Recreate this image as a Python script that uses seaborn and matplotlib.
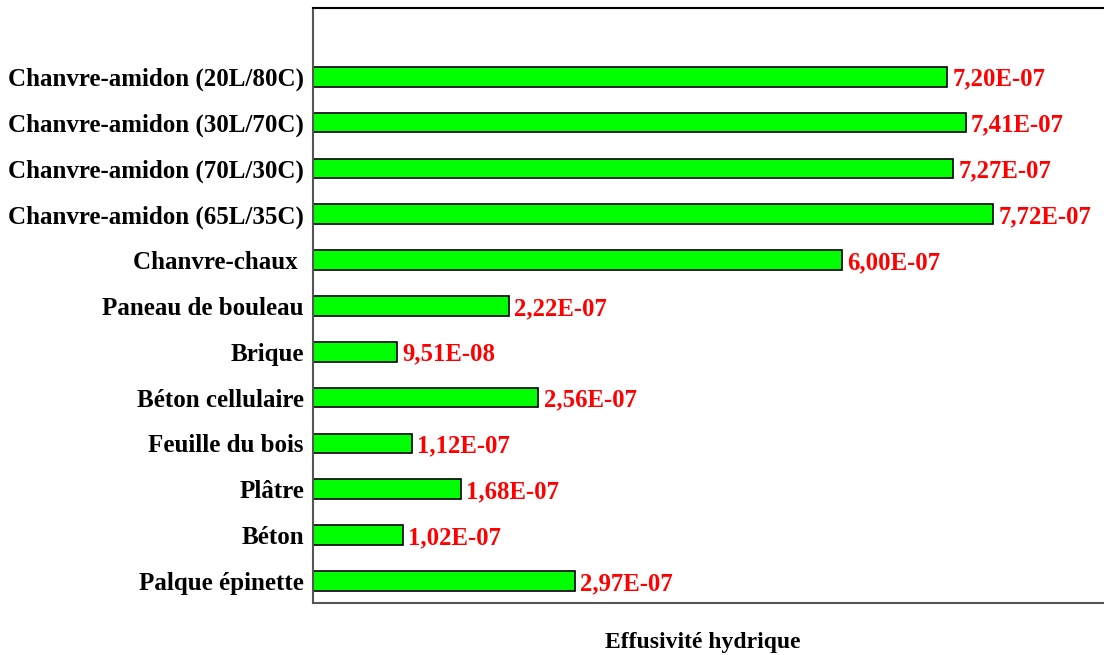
import matplotlib
matplotlib.use("Agg")
import matplotlib.pyplot as plt
import seaborn as sns
import pandas as pd

materials = [
    "Chanvre-amidon (20L/80C)",
    "Chanvre-amidon (30L/70C)",
    "Chanvre-amidon (70L/30C)",
    "Chanvre-amidon (65L/35C)",
    "Chanvre-chaux ",
    "Paneau de bouleau",
    "Brique",
    "Béton cellulaire",
    "Feuille du bois",
    "Plâtre",
    "Béton",
    "Palque épinette",
]
effusivity = [7.20e-07, 7.41e-07, 7.27e-07, 7.72e-07, 6.00e-07, 2.22e-07,
              9.51e-08, 2.56e-07, 1.12e-07, 1.68e-07, 1.02e-07, 2.97e-07]
value_labels = ["7,20E-07", "7,41E-07", "7,27E-07", "7,72E-07", "6,00E-07", "2,22E-07",
                "9,51E-08", "2,56E-07", "1,12E-07", "1,68E-07", "1,02E-07", "2,97E-07"]

df = pd.DataFrame({"material": materials, "effusivity": effusivity})

sns.set_style("white")
plt.rcParams["font.family"] = ["Liberation Serif", "DejaVu Serif"]
plt.rcParams["text.color"] = "black"
plt.rcParams["ytick.color"] = "black"
plt.rcParams["axes.labelcolor"] = "black"

fig = plt.figure(figsize=(11.04, 6.55), dpi=100)
ax = fig.add_axes([0.2835, 0.0794, 0.7165, 0.9084])

sns.barplot(data=df, y="material", x="effusivity", orient="h", order=materials,
            color="#00FF00", saturation=1, width=0.43, edgecolor="black",
            linewidth=1.2, ax=ax)

for i, (v, lab) in enumerate(zip(effusivity, value_labels)):
    ax.text(v + 0.06e-07, i, lab, va="center_baseline", ha="left", color="#FF0000",
            fontsize=17.8, fontweight="bold")

ax.set_xlim(0, 8.98e-07)
ax.set_ylim(11.48, -1.5)
ax.set_xticks([])
ax.set_ylabel("")
ax.set_xlabel("Effusivité hydrique", fontsize=17, fontweight="bold")
ax.xaxis.set_label_coords(0.4925, -0.048)
ax.tick_params(axis="y", length=0, pad=6.5)
for t in ax.get_yticklabels():
    t.set_fontsize(18)
    t.set_fontweight("bold")

ax.spines["right"].set_visible(False)
ax.spines["top"].set_color("black")
ax.spines["top"].set_linewidth(1.5)
for s in ("left", "bottom"):
    ax.spines[s].set_color("#555555")
    ax.spines[s].set_linewidth(1.5)

fig.savefig("out.png", dpi=100)
